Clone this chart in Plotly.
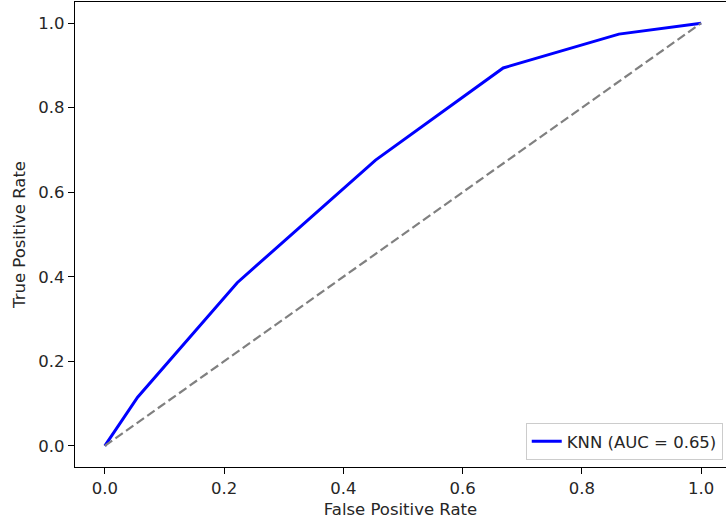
import plotly.graph_objects as go

fpr = [0.0, 0.055, 0.222, 0.454, 0.668, 0.862, 1.0]
tpr = [0.0, 0.115, 0.386, 0.676, 0.894, 0.974, 1.0]
diag_x = [0, 1]
diag_y = [0, 1]
auc_label = "KNN (AUC = 0.65)"
x_ticks = [0.0, 0.2, 0.4, 0.6, 0.8, 1.0]
y_ticks = [0.0, 0.2, 0.4, 0.6, 0.8, 1.0]

font = "DejaVu Sans"
fs = 16.5
tc = "#262626"

fig = go.Figure()
fig.add_trace(go.Scatter(x=fpr, y=tpr, mode="lines", name=auc_label,
                         line=dict(color="blue", width=3)))
fig.add_trace(go.Scatter(x=diag_x, y=diag_y, mode="lines", showlegend=False,
                         line=dict(color="gray", width=2.2, dash="9px,4px")))

axis_common = dict(showgrid=False, zeroline=False, showline=True, linecolor="black",
                   linewidth=1.3, ticks="outside", ticklen=6, tickwidth=1.3, tickcolor="black",
                   tickfont=dict(family=font, size=fs, color=tc))

fig.update_layout(
    width=726, height=525,
    margin=dict(l=75, r=0, t=2, b=58),
    plot_bgcolor="white", paper_bgcolor="white",
    font=dict(family=font, size=fs, color=tc),
    xaxis=dict(range=[-0.05, 1.0416], tickvals=x_ticks, ticktext=[f"{v:.1f}" for v in x_ticks],
               mirror=True, title=dict(text="False Positive Rate", standoff=6,
                                       font=dict(family=font, size=fs, color=tc)),
               **axis_common),
    yaxis=dict(range=[-0.05, 1.05], tickvals=y_ticks, ticktext=[f"{v:.1f}" for v in y_ticks],
               mirror=False, title=dict(text="True Positive Rate", standoff=8,
                                        font=dict(family=font, size=fs, color=tc)),
               **axis_common),
    legend=dict(x=0.995, y=0.015, xanchor="right", yanchor="bottom",
                bgcolor="rgba(255,255,255,0.8)", bordercolor="#cccccc", borderwidth=1,
                font=dict(family=font, size=fs, color=tc)),
)

fig.write_html("out.html")
